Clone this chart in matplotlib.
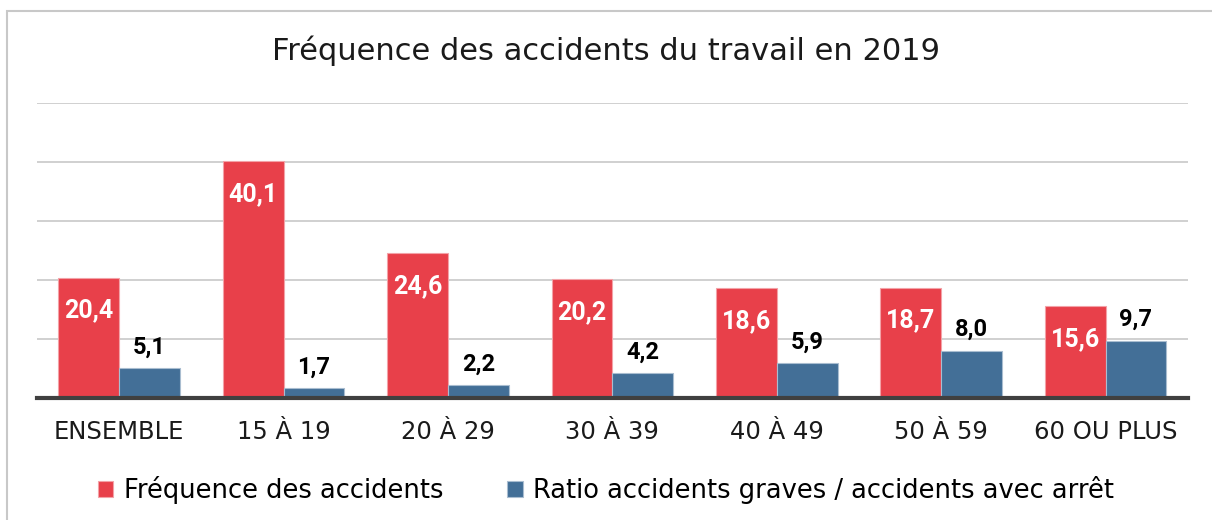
import numpy as np
import matplotlib.pyplot as plt
from matplotlib.patches import Rectangle

categories = ["ENSEMBLE", "15 À 19", "20 À 29", "30 À 39", "40 À 49", "50 À 59", "60 OU PLUS"]
frequence = [20.4, 40.1, 24.6, 20.2, 18.6, 18.7, 15.6]
ratio = [5.1, 1.7, 2.2, 4.2, 5.9, 8.0, 9.7]
series_names = ["Fréquence des accidents", "Ratio accidents graves / accidents avec arrêt"]
title = "Fréquence des accidents du travail en 2019"

red = "#E8404A"
blue = "#436F97"

plt.rcParams['font.family'] = ['DejaVu Sans']

fig = plt.figure(figsize=(12.12, 5.2), dpi=100)
ax = fig.add_axes([0.0305, 0.2346, 0.9495, 0.5674])

# chart frame
fig.patches.append(Rectangle((7 / 1212, -0.1), 1.2, 1 - 11 / 520 + 0.1, transform=fig.transFigure,
                             fill=False, edgecolor="#c8c8c8", lw=1.5))

x = np.arange(len(categories))
w = 0.37
b1 = ax.bar(x - w / 2, frequence, w, color=red, edgecolor="#f3a2a7", lw=0.8,
            label=series_names[0], zorder=3)
b2 = ax.bar(x + w / 2, ratio, w, color=blue, edgecolor="#a9bdd0", lw=0.8,
            label=series_names[1], zorder=3)

def fmt(v):
    return f"{v:.1f}".replace(".", ",")

for rect, v in zip(b1, frequence):
    ax.annotate(fmt(v), (rect.get_x() + rect.get_width() / 2, v), xytext=(0, -22),
                textcoords="offset points", ha="center", va="center_baseline", color="white",
                fontsize=18, fontweight="bold", family="Roboto", zorder=4)
for rect, v in zip(b2, ratio):
    ax.annotate(fmt(v), (rect.get_x() + rect.get_width() / 2, v), xytext=(0, 17),
                textcoords="offset points", ha="center", va="center_baseline", color="black",
                fontsize=17, fontweight="bold", family="Roboto", zorder=4)

ax.set_xlim(-0.5, len(categories) - 0.5)
ax.set_ylim(0, 50)
ax.set_yticks(np.arange(0, 51, 10))
ax.yaxis.grid(True, color="#c8c8c8", lw=1.2, zorder=0)
ax.set_yticklabels([])
ax.tick_params(axis="y", length=0)
ax.set_xticks(x)
ax.set_xticklabels(categories, fontsize=17.5, color="#1a1a1a")
ax.tick_params(axis="x", length=0, pad=16)
for s in ["top", "right", "left"]:
    ax.spines[s].set_visible(False)
ax.spines["bottom"].set_color("#404040")
ax.spines["bottom"].set_linewidth(3)
ax.spines["bottom"].set_zorder(5)

fig.text(0.5, 0.903, title, ha="center", va="center", fontsize=22, color="#1a1a1a")

fig.legend(handles=[b1, b2], loc="center", bbox_to_anchor=(0.5, 0.058), ncol=2, frameon=False,
           fontsize=18.5, handlelength=0.6, handleheight=0.6, handletextpad=0.4, columnspacing=2.5)

fig.savefig("out.png", dpi=100)
